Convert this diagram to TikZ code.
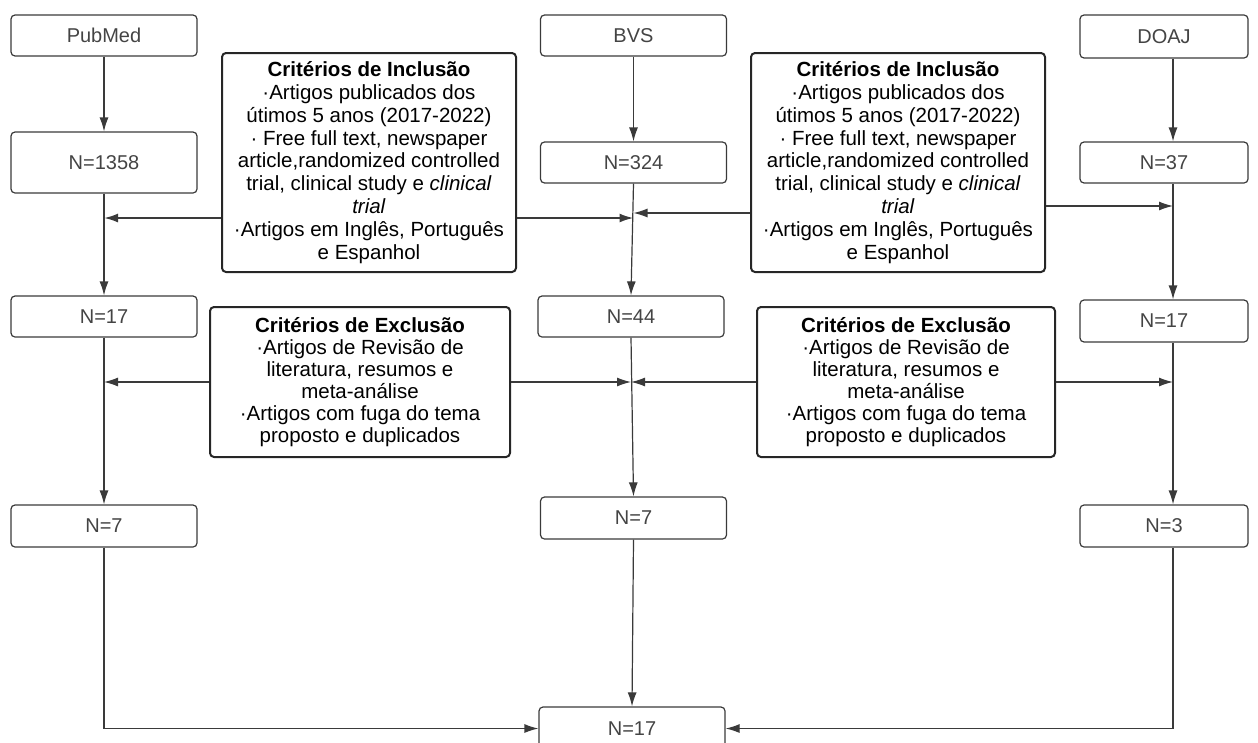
\documentclass[tikz,border=0pt]{standalone}
\usepackage{fontspec}
\setmainfont{Liberation Sans}
\usetikzlibrary{arrows.meta}
\definecolor{linegray}{HTML}{3A3A3A}
\definecolor{textgray}{HTML}{444444}

\begin{document}
\begin{tikzpicture}[x=1pt,y=-1pt,
	box/.style={draw=linegray, line width=1.2pt, rounded corners=4pt, minimum width=186pt, minimum height=41pt, inner sep=0pt, text=textgray, font=\fontsize{20}{22}\selectfont},
	crit/.style={draw=black!85, line width=2pt, rounded corners=4pt, align=center, inner sep=0pt, font=\fontsize{20.5}{22}\selectfont},
	flow/.style={draw=linegray, line width=1.2pt, -{Latex[length=14pt,width=9pt]}},
	thickflow/.style={flow, line width=2pt}]
	\useasboundingbox (0,0) rectangle (1258,742);
	% sources
	\node [box] (pubmed) at (104,35.5) {PubMed};
	\node [box] (bvs) at (633.5,35.5) {BVS};
	\node [box, minimum width=168pt, minimum height=43pt] (doaj) at (1164,36.5) {DOAJ};
	% counts
	\node [box, minimum height=61pt] (pm1358) at (104,162.5) {N=1358};
	\node [box] (pm17) at (104,316.5) {N=17};
	\node [box, minimum height=42pt] (pm7) at (104,526) {N=7};
	\node [box] (bvs324) at (633.5,162.5) {N=324};
	\node [box] (bvs44) at (631,316.5) {N=44};
	\node [box, minimum height=42pt] (bvs7) at (633.5,518) {N=7};
	\node [box, minimum width=168pt] (doaj37) at (1164,162.5) {N=37};
	\node [box, minimum width=168pt, minimum height=42pt] (doaj17) at (1164,321) {N=17};
	\node [box, minimum width=168pt, minimum height=42pt] (doaj3) at (1164,526) {N=3};
	\node [box, minimum height=43pt] (total) at (632,728.5) {N=17};
	% criteria
	\node [crit, font=\fontsize{20.5}{22.8}\selectfont, minimum width=294pt, minimum height=219pt] (inclL) at (369,162.5) {\textbf{Critérios de Inclusão}\\·Artigos publicados dos\\útimos 5 anos (2017-2022)\\· Free full text, newspaper\\article,randomized controlled\\trial, clinical study e \textit{clinical}\\\textit{trial}\\·Artigos em Inglês, Português\\e Espanhol};
	\node [crit, font=\fontsize{20.5}{22.8}\selectfont, minimum width=294pt, minimum height=219pt] (inclR) at (898,162.5) {\textbf{Critérios de Inclusão}\\·Artigos publicados dos\\útimos 5 anos (2017-2022)\\· Free full text, newspaper\\article,randomized controlled\\trial, clinical study e \textit{clinical}\\\textit{trial}\\·Artigos em Inglês, Português\\e Espanhol};
	\node [crit, minimum width=300pt, minimum height=150pt] (exclL) at (360,382) {\textbf{Critérios de Exclusão}\\·Artigos de Revisão de\\literatura, resumos e\\meta-análise\\·Artigos com fuga do tema\\proposto e duplicados};
	\node [crit, minimum width=298pt, minimum height=150pt] (exclR) at (906,382) {\textbf{Critérios de Exclusão}\\·Artigos de Revisão de\\literatura, resumos e\\meta-análise\\·Artigos com fuga do tema\\proposto e duplicados};
	% helper coordinates
	\coordinate (colR) at (1173,0);
	\coordinate (inLy) at (0,218);
	\coordinate (inRy) at (0,213);
	\coordinate (inRRy) at (0,206);
	% left column
	\draw [flow] (pubmed.south) -- (pm1358.north);
	\draw [flow] (pm1358.south) -- (pm17.north);
	\draw [flow] (pm17.south) -- (pm7.north);
	\draw [flow] (pm7.south) |- (total.west);
	% middle column
	\draw [flow] (bvs.south) -- (bvs324.north);
	\draw [flow] (bvs324.south) -- (bvs44.north);
	\draw [flow] (bvs44.south) -- (bvs7.north);
	\draw [flow] (bvs7.south) -- (total.north);
	% right column
	\draw [flow] (doaj.south -| colR) -- (doaj37.north -| colR);
	\draw [flow] (doaj37.south -| colR) -- (doaj17.north -| colR);
	\draw [flow] (doaj17.south -| colR) -- (doaj3.north -| colR);
	\draw [flow] (doaj3.south -| colR) |- (total.east);
	% inclusion
	\draw [thickflow] (inclL.west |- inLy) -- (pm1358 |- inLy);
	\draw [thickflow] (inclL.east |- inLy) -- (bvs324 |- inLy);
	\draw [flow] (inclR.west |- inRy) -- (bvs324 |- inRy);
	\draw [flow] (inclR.east |- inRRy) -- (colR |- inRRy);
	% exclusion
	\draw [flow] (exclL.west) -- (pm17 |- exclL.west);
	\draw [flow] (exclL.east) -- (bvs44 |- exclL.east);
	\draw [flow] (exclR.west) -- (bvs44 |- exclR.west);
	\draw [flow] (exclR.east) -- (colR |- exclR.east);
\end{tikzpicture}
\end{document}
